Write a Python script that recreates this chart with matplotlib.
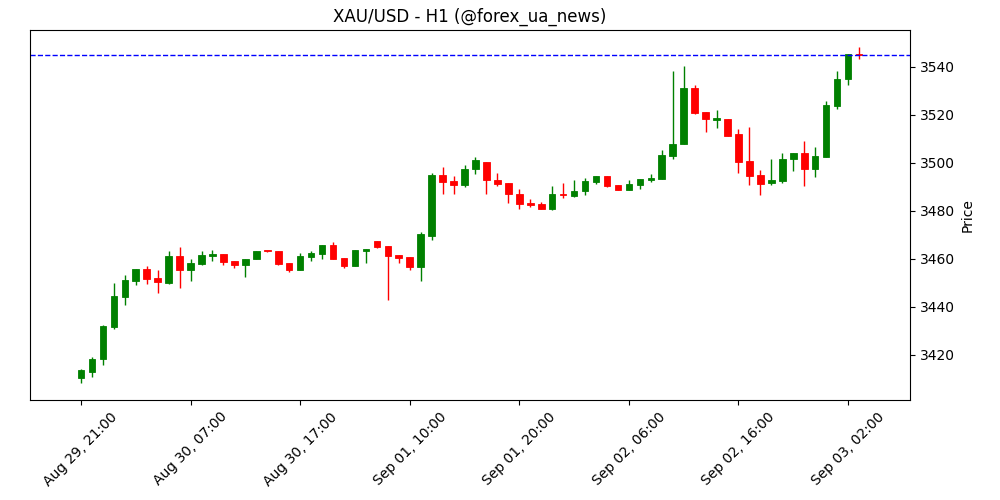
import matplotlib
matplotlib.use("Agg")
import matplotlib.pyplot as plt
import numpy as np

# Velas H1 (open, high, low, close)
opens = [3410.4, 3413.0, 3418.3, 3431.8, 3444.3, 3451.0, 3455.7, 3452.0, 3450.1, 3461.2,
         3455.5, 3458.0, 3461.4, 3462.1, 3459.2, 3457.6, 3459.9, 3463.4, 3463.3, 3458.3,
         3455.5, 3461.0, 3462.2, 3465.8, 3460.4, 3457.2, 3463.5, 3467.5, 3465.4, 3461.7,
         3460.8, 3456.8, 3469.7, 3495.0, 3492.4, 3491.0, 3497.4, 3500.3, 3492.9, 3491.7,
         3487.1, 3483.2, 3482.9, 3481.0, 3487.1, 3486.4, 3488.5, 3492.1, 3494.6, 3490.8,
         3488.9, 3491.0, 3492.9, 3493.5, 3503.0, 3507.8, 3531.1, 3521.2, 3518.0, 3518.3,
         3512.1, 3500.8, 3495.0, 3491.8, 3492.6, 3501.5, 3504.0, 3497.6, 3502.6, 3523.9,
         3534.9, 3545.3]
highs = [3414.0, 3419.0, 3432.5, 3450.0, 3453.3, 3456.0, 3457.0, 3455.4, 3463.3, 3465.0,
         3460.0, 3463.3, 3463.7, 3462.2, 3459.3, 3460.0, 3463.5, 3463.5, 3463.4, 3458.4,
         3462.4, 3463.3, 3466.0, 3467.0, 3460.5, 3463.8, 3464.3, 3467.6, 3465.5, 3461.8,
         3461.0, 3471.2, 3496.0, 3498.3, 3494.6, 3499.2, 3502.6, 3500.4, 3496.0, 3491.8,
         3489.0, 3484.9, 3483.9, 3490.4, 3491.8, 3492.9, 3493.6, 3494.7, 3494.7, 3490.9,
         3492.8, 3493.4, 3495.4, 3505.4, 3538.3, 3540.4, 3532.5, 3521.4, 3522.1, 3518.5,
         3514.0, 3514.9, 3497.1, 3501.7, 3504.0, 3504.1, 3509.2, 3506.5, 3526.0, 3538.5,
         3545.5, 3548.2]
lows = [3408.3, 3411.0, 3416.0, 3430.7, 3441.0, 3449.0, 3449.5, 3446.0, 3449.5, 3448.0,
        3451.0, 3457.5, 3459.0, 3457.6, 3456.4, 3452.6, 3459.8, 3463.0, 3457.5, 3454.7,
        3455.4, 3459.0, 3460.0, 3460.0, 3456.4, 3457.0, 3458.2, 3464.5, 3443.0, 3458.2,
        3455.4, 3451.0, 3467.9, 3487.0, 3487.0, 3490.0, 3495.3, 3487.0, 3490.5, 3483.2,
        3481.0, 3481.5, 3480.8, 3480.4, 3485.3, 3486.0, 3486.5, 3491.4, 3490.0, 3488.8,
        3488.8, 3489.3, 3492.2, 3493.4, 3501.5, 3507.7, 3520.3, 3512.8, 3514.4, 3511.3,
        3495.7, 3490.8, 3486.7, 3490.8, 3491.5, 3496.7, 3490.4, 3494.0, 3502.5, 3522.4,
        3532.5, 3543.2]
closes = [3413.7, 3418.3, 3432.1, 3444.6, 3451.2, 3455.7, 3451.8, 3450.4, 3461.2, 3455.5,
          3458.2, 3461.7, 3462.1, 3458.9, 3457.6, 3460.0, 3463.3, 3463.2, 3458.1, 3455.5,
          3461.2, 3462.5, 3465.8, 3460.1, 3457.2, 3463.7, 3464.2, 3465.1, 3461.4, 3460.5,
          3456.8, 3470.4, 3495.0, 3492.2, 3491.0, 3497.5, 3501.2, 3492.8, 3491.4, 3487.0,
          3482.8, 3482.6, 3481.0, 3487.1, 3486.5, 3488.3, 3492.5, 3494.6, 3490.5, 3488.9,
          3491.2, 3493.3, 3493.7, 3503.3, 3507.9, 3531.1, 3521.0, 3518.2, 3518.7, 3511.4,
          3500.5, 3494.7, 3491.4, 3492.9, 3501.7, 3504.0, 3497.4, 3502.9, 3524.2, 3534.9,
          3545.4, 3544.9]

tick_pos = [0, 10, 20, 30, 40, 50, 60, 70]
tick_labels = ["Aug 29, 21:00", "Aug 30, 07:00", "Aug 30, 17:00", "Sep 01, 10:00",
               "Sep 01, 20:00", "Sep 02, 06:00", "Sep 02, 16:00", "Sep 03, 02:00"]
last_price = 3545.0

o = np.array(opens)
h = np.array(highs)
l = np.array(lows)
c = np.array(closes)
x = np.arange(len(o))
colores = np.where(c >= o, "green", "red")

fig = plt.figure(figsize=(10, 5), dpi=100)
ax = fig.add_axes([0.03, 0.2, 0.88, 0.74])

# mechas
ax.vlines(x, l, h, colors=colores, linewidth=1, zorder=1)
# cuerpos
bottom = np.minimum(o, c)
altura = np.maximum(np.abs(c - o), 0.35)
ax.bar(x, altura, bottom=bottom, width=0.6, color=colores, edgecolor=colores,
       linewidth=0.6, zorder=2)

ax.axhline(last_price, color="blue", linestyle="--", linewidth=1)

ax.set_xlim(-4.65, 75.65)
ax.set_ylim(3401.25, 3555.4)
ax.set_xticks(tick_pos)
ax.set_xticklabels(tick_labels, rotation=45)
ax.set_yticks([3420, 3440, 3460, 3480, 3500, 3520, 3540])
ax.yaxis.tick_right()
ax.yaxis.set_label_position("right")
ax.set_ylabel("Price")
ax.set_title("XAU/USD - H1 (@forex_ua_news)")

plt.savefig("out.png", dpi=100)
